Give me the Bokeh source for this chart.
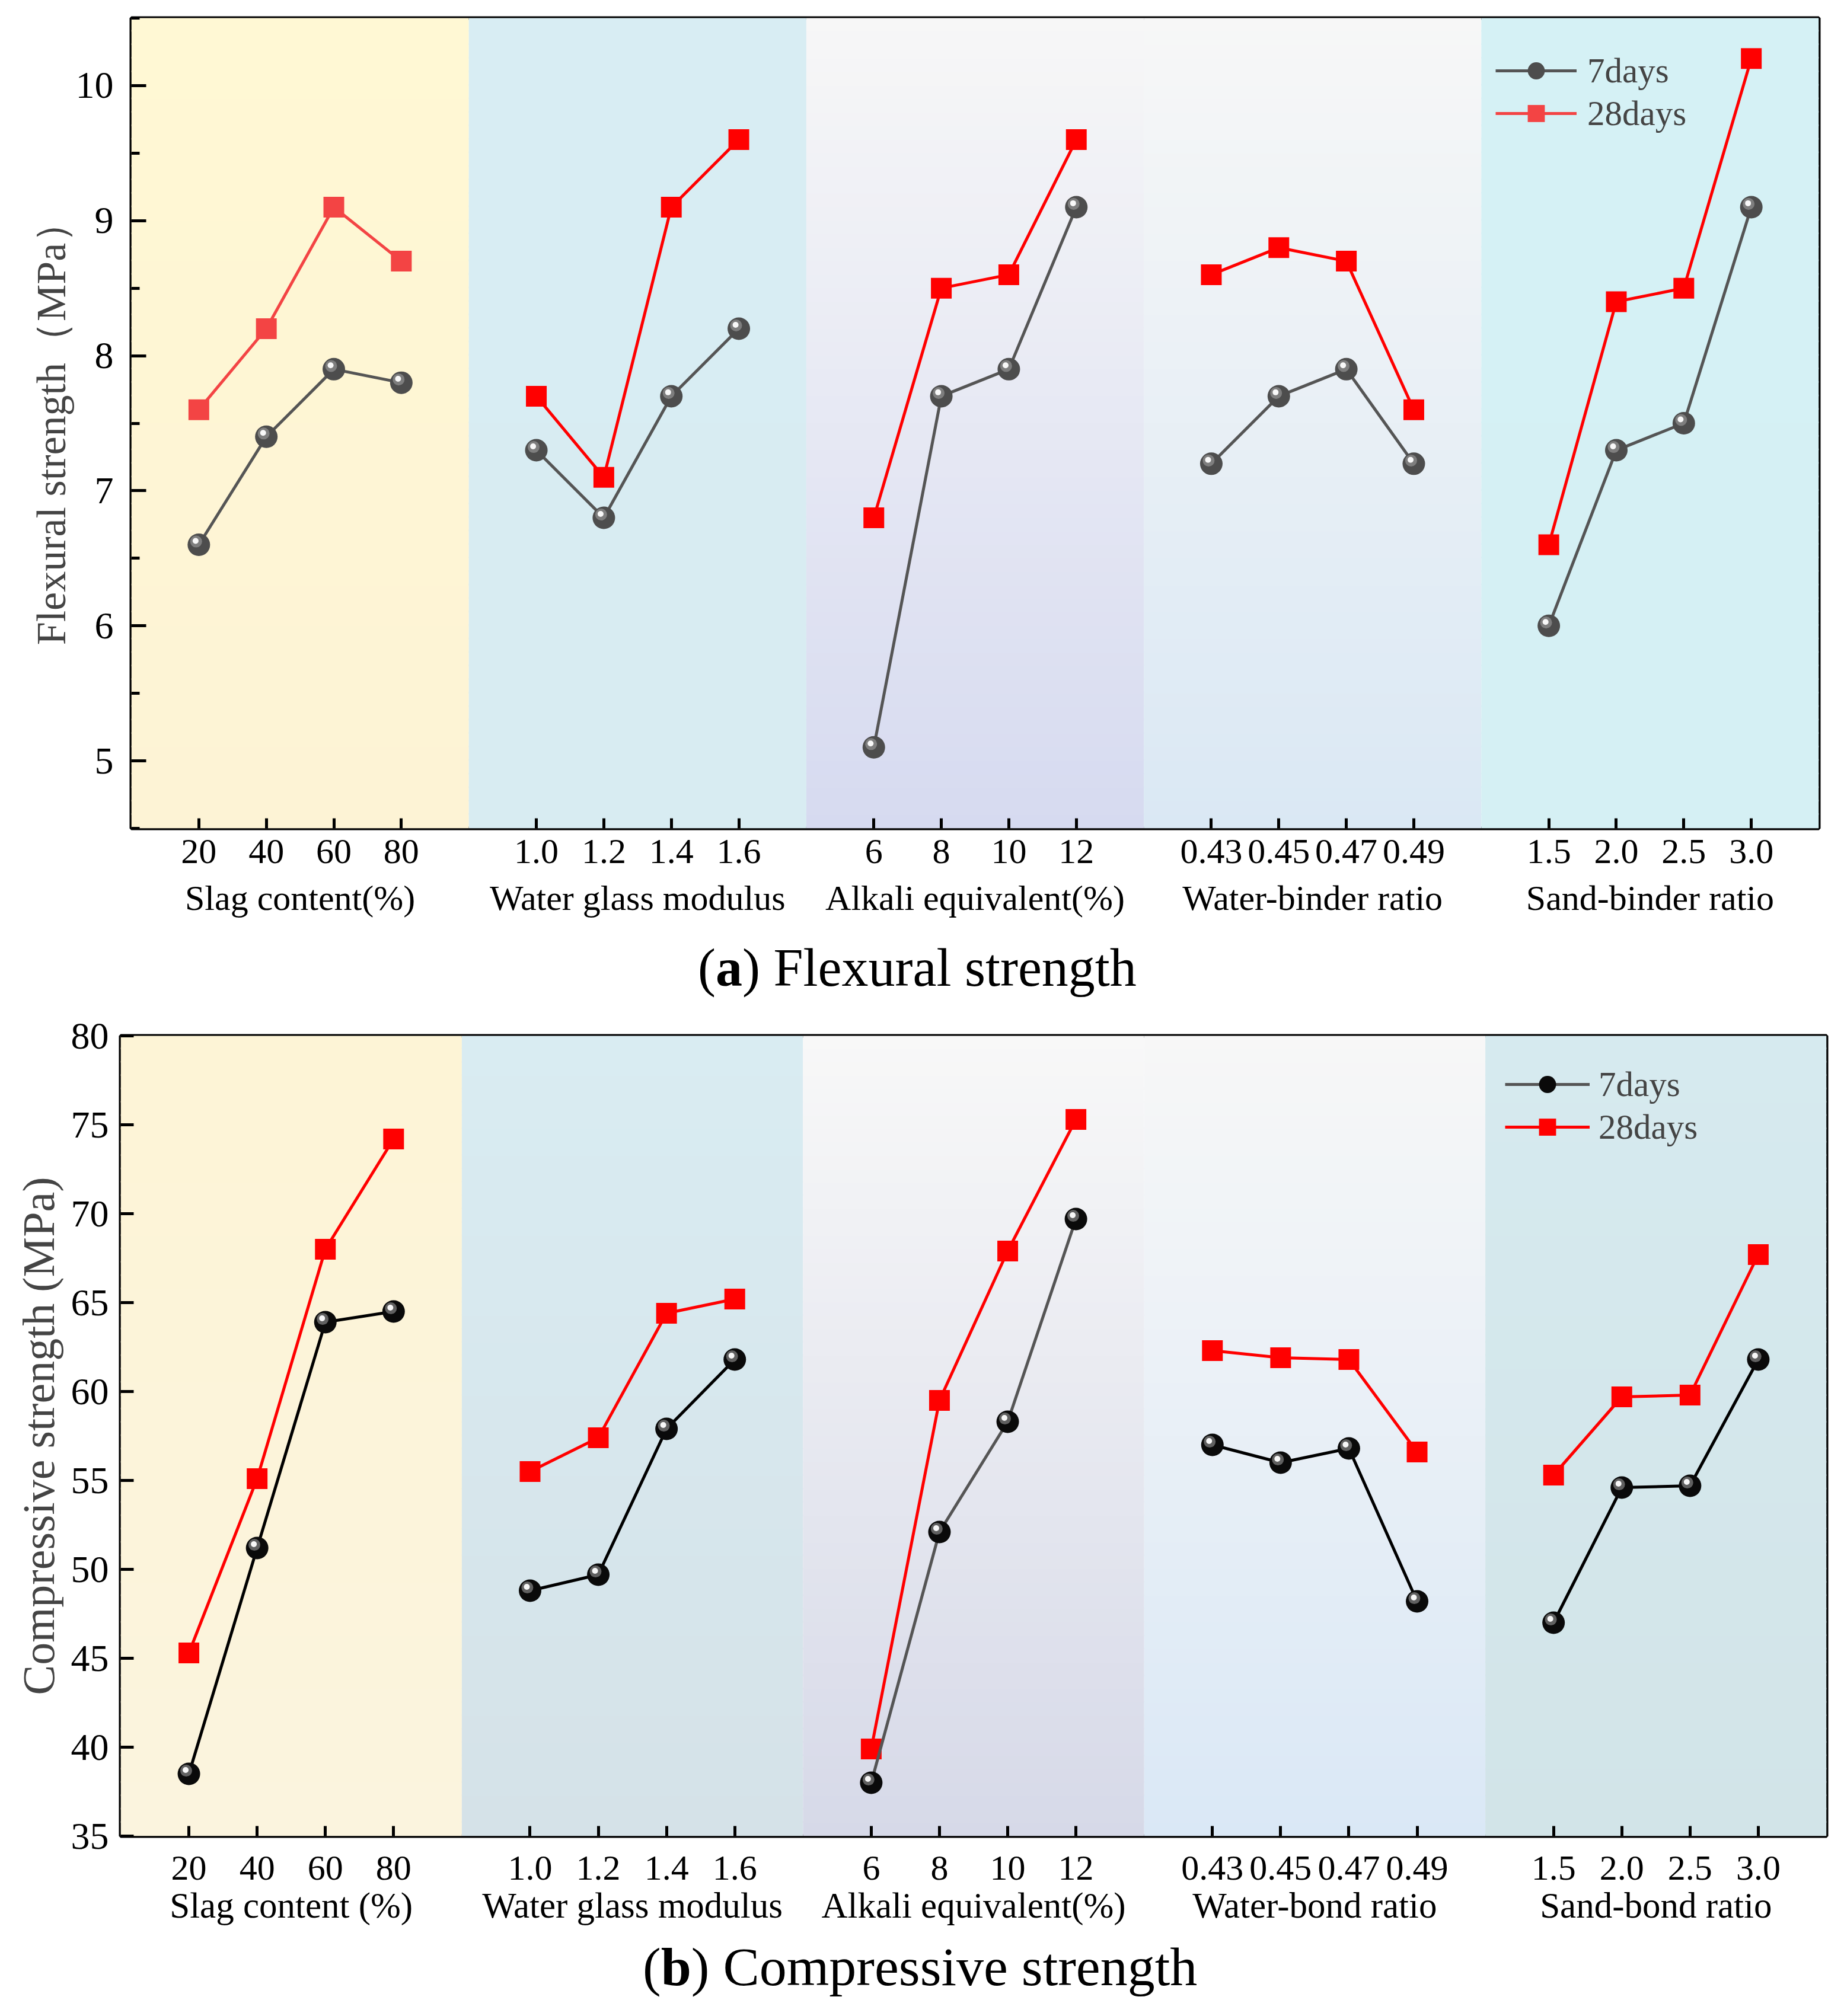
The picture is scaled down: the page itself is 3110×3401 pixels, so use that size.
from bokeh.plotting import figure
from bokeh.models import (FixedTicker, LinearAxis, Range1d, Legend,
                          LegendItem, ColumnDataSource, Div)
from bokeh.transform import dodge
from bokeh.embed import file_html
from bokeh.resources import INLINE

# ---------------- data ----------------
tick_labels = ["20", "40", "60", "80",
               "1.0", "1.2", "1.4", "1.6",
               "6", "8", "10", "12",
               "0.43", "0.45", "0.47", "0.49",
               "1.5", "2.0", "2.5", "3.0"]
group_names_a = ["Slag content(%)", "Water glass modulus", "Alkali equivalent(%)",
                 "Water-binder ratio", "Sand-binder ratio"]
group_names_b = ["Slag content (%)", "Water glass modulus", "Alkali equivalent(%)",
                 "Water-bond ratio", "Sand-bond ratio"]
series_names = ["7days", "28days"]

flex_7d = [6.6, 7.4, 7.9, 7.8,
           7.3, 6.8, 7.7, 8.2,
           5.1, 7.7, 7.9, 9.1,
           7.2, 7.7, 7.9, 7.2,
           6.0, 7.3, 7.5, 9.1]
flex_28d = [7.6, 8.2, 9.1, 8.7,
            7.7, 7.1, 9.1, 9.6,
            6.8, 8.5, 8.6, 9.6,
            8.6, 8.8, 8.7, 7.6,
            6.6, 8.4, 8.5, 10.2]
comp_7d = [38.5, 51.2, 63.9, 64.5,
           48.8, 49.7, 57.9, 61.8,
           38.0, 52.1, 58.3, 69.7,
           57.0, 56.0, 56.8, 48.2,
           47.0, 54.6, 54.7, 61.8]
comp_28d = [45.3, 55.1, 68.0, 74.2,
            55.5, 57.4, 64.4, 65.2,
            39.9, 59.5, 67.9, 75.3,
            62.3, 61.9, 61.8, 56.6,
            55.3, 59.7, 59.8, 67.7]

flex_yticks = [5, 6, 7, 8, 9, 10]
comp_yticks = [35, 40, 45, 50, 55, 60, 65, 70, 75, 80]

# ---------------- styling ----------------
FONT = "Liberation Serif"
N_GROUPS = 5
PER_GROUP = 4
GROUP_W = PER_GROUP + 1
PAGE_W = 3094

band_colors_a = [("#FFF8D4", "#FDF3D5"), ("#D8EDF3", "#D8ECF2"),
                 ("#F7F7F7", "#D6DAF0"), ("#F7F7F7", "#DAE8F4"),
                 ("#D5F1F5", "#D5F0F4")]
band_colors_b = [("#FDF4D6", "#FBF4DE"), ("#D9ECF2", "#D5E2E8"),
                 ("#F8F8F8", "#D6D9E8"), ("#F7F7F7", "#DAE8F6"),
                 ("#D6EAEF", "#D2E4E8")]


def hex_mix(c1, c2, t):
    a = [int(c1[i:i + 2], 16) for i in (1, 3, 5)]
    b = [int(c2[i:i + 2], 16) for i in (1, 3, 5)]
    return "#%02x%02x%02x" % tuple(round(a[k] + (b[k] - a[k]) * t) for k in range(3))


def make_panel(cfg):
    y0, y1 = cfg["yrange"]
    p = figure(frame_width=cfg["frame_w"], frame_height=cfg["frame_h"],
               x_range=Range1d(0, N_GROUPS * GROUP_W), y_range=Range1d(y0, y1),
               output_backend="svg", toolbar_location=None,
               min_border_left=cfg["border_l"], min_border_right=cfg["border_r"],
               min_border_top=cfg["border_t"], min_border_bottom=cfg["border_b"],
               background_fill_color="white", border_fill_color="white")
    p.grid.visible = False
    p.outline_line_color = "black"
    p.outline_line_width = 6
    p.outline_line_alpha = 1

    # background bands (vertical gradient approximated with stacked slices)
    L, R, B, T, C = [], [], [], [], []
    nslices = 60
    for g, (ct, cb) in enumerate(cfg["bands"]):
        for k in range(nslices):
            fb = k / nslices
            ft = (k + 1) / nslices
            L.append(g * GROUP_W)
            R.append((g + 1) * GROUP_W)
            B.append(y0 + (y1 - y0) * fb)
            T.append(y0 + (y1 - y0) * ft + (y1 - y0) * 0.002)
            C.append(hex_mix(cb, ct, (k + 0.5) / nslices))
    p.quad(left=L, right=R, bottom=B, top=T, fill_color=C, line_color=None)

    xs = [g * GROUP_W + i + 1 for g in range(N_GROUPS) for i in range(PER_GROUP)]

    legend_r7, legend_r28 = None, None
    for g in range(N_GROUPS):
        sl = slice(g * PER_GROUP, (g + 1) * PER_GROUP)
        src28 = ColumnDataSource(dict(x=xs[sl], y=cfg["v28"][sl]))
        src7 = ColumnDataSource(dict(x=xs[sl], y=cfg["v7"][sl]))
        c28 = cfg["red_first"] if g == 0 else "#FF0000"
        l28 = p.line("x", "y", source=src28, line_color=c28, line_width=5)
        s28 = p.scatter("x", "y", source=src28, marker="square", size=35,
                        fill_color=c28, line_color=None)
        l7 = p.line("x", "y", source=src7, line_color=cfg["line7"][g], line_width=5)
        s7 = p.scatter("x", "y", source=src7, marker="circle", size=38,
                       fill_color=cfg["sphere"], line_color=None)
        dx, dy = cfg["hl_dx"], cfg["hl_dy"]
        p.scatter(x=dodge("x", dx, range=p.x_range), y=dodge("y", dy, range=p.y_range),
                  source=src7, marker="circle", size=20,
                  fill_color="#A8A8A8", fill_alpha=0.55, line_color=None)
        p.scatter(x=dodge("x", dx * 1.2, range=p.x_range),
                  y=dodge("y", dy * 1.2, range=p.y_range),
                  source=src7, marker="circle", size=10,
                  fill_color="white", fill_alpha=0.95, line_color=None)
        if g == cfg["legend_group"]:
            legend_r7 = [l7, s7]
            legend_r28 = [l28, s28]

    # y axis
    yax = p.yaxis[0]
    yax.ticker = FixedTicker(ticks=cfg["yticks"], minor_ticks=cfg["yminor"])
    yax.axis_label = cfg["ylabel"]
    yax.axis_label_text_font = FONT
    yax.axis_label_text_font_size = cfg["ylabel_size"]
    yax.axis_label_text_font_style = "normal"
    yax.axis_label_standoff = cfg["ylabel_standoff"]
    yax.major_label_text_font = FONT
    yax.major_label_text_font_size = "64px"
    yax.major_label_standoff = cfg["ytick_standoff"]
    yax.axis_line_color = None
    yax.major_tick_in = cfg["ytick_in"]
    yax.major_tick_out = 0
    yax.minor_tick_in = 14
    yax.minor_tick_out = 0
    yax.major_tick_line_width = 5
    yax.minor_tick_line_width = 5
    yax.major_label_text_color = "black"

    # x axis with tick labels
    xax = p.xaxis[0]
    xax.ticker = FixedTicker(ticks=xs, minor_ticks=[])
    xax.major_label_overrides = {float(x): lab for x, lab in zip(xs, tick_labels)}
    xax.major_label_text_font = FONT
    xax.major_label_text_font_size = "60px"
    xax.major_label_standoff = cfg["xtick_standoff"]
    xax.axis_line_color = None
    xax.major_tick_in = 17
    xax.major_tick_out = 0
    xax.minor_tick_in = 0
    xax.minor_tick_out = 0
    xax.major_tick_line_width = 5
    xax.major_label_text_color = "black"

    # second x axis with group names
    centers = [g * GROUP_W + GROUP_W / 2 for g in range(N_GROUPS)]
    gax = LinearAxis(ticker=FixedTicker(ticks=centers, minor_ticks=[]))
    gax.major_label_overrides = {float(c): n for c, n in zip(centers, cfg["groups"])}
    gax.major_label_text_font = FONT
    gax.major_label_text_font_size = cfg["group_size"]
    gax.major_label_standoff = cfg["group_standoff"]
    gax.major_label_text_color = "black"
    gax.axis_line_color = None
    gax.major_tick_line_color = None
    gax.minor_tick_line_color = None
    gax.major_tick_in = 0
    gax.major_tick_out = 0
    p.add_layout(gax, "below")

    # legend
    legend = Legend(items=[LegendItem(label=series_names[0], renderers=legend_r7),
                           LegendItem(label=series_names[1], renderers=legend_r28)],
                    location=cfg["legend_loc"])
    legend.glyph_width = cfg["legend_gw"]
    legend.glyph_height = 72
    legend.label_height = 72
    legend.spacing = 0
    legend.padding = 0
    legend.margin = 0
    legend.border_line_color = None
    legend.background_fill_alpha = 0
    legend.label_text_font = FONT
    legend.label_text_font_size = "59px"
    legend.label_standoff = cfg["legend_standoff"]
    p.add_layout(legend)
    return p


def make_caption(cfg):
    html = ('<div style="font-family:\'%s\', serif; font-size:%dpx; line-height:1; '
            'color:black; white-space:nowrap; padding-left:%dpx; padding-top:%dpx;">'
            '(<b>%s</b>) %s</div>') % (FONT, cfg["cap_size"], cfg["cap_x"],
                                       cfg["cap_pad_top"], cfg["letter"], cfg["caption"])
    return Div(text=html, width=PAGE_W, height=cfg["cap_h"], margin=0)


cfg_a = dict(yrange=(4.5, 10.5), frame_w=2846, frame_h=1367,
             border_l=221, border_r=27, border_t=30, border_b=183,
             bands=band_colors_a, v7=flex_7d, v28=flex_28d,
             red_first="#F34444", line7=["#555555"] * 5, sphere="#4D4D4D",
             hl_dx=-0.04, hl_dy=0.024, legend_group=0,
             yticks=flex_yticks, yminor=[4.5 + 0.5 * k for k in range(13)],
             ylabel="Flexural strength\uff08MPa\uff09", ylabel_size="70px",
             ylabel_standoff=0, ytick_standoff=30, ytick_in=25,
             xtick_standoff=19, groups=group_names_a, group_size="60px",
             group_standoff=23, legend_loc=(2301, 1170), legend_gw=137,
             legend_standoff=18,
             cap_h=120, cap_x=1177, cap_pad_top=8, cap_size=90,
             letter="a", caption="Flexural strength")

cfg_b = dict(yrange=(35, 80), frame_w=2877, frame_h=1350,
             border_l=203, border_r=14, border_t=47, border_b=175,
             bands=band_colors_b, v7=comp_7d, v28=comp_28d,
             red_first="#FF0000",
             line7=["#000000", "#000000", "#555555", "#000000", "#000000"],
             sphere="#0A0A0A", hl_dx=-0.04, hl_dy=0.18, legend_group=2,
             yticks=comp_yticks, yminor=[],
             ylabel="Compressive strength (MPa)", ylabel_size="76px",
             ylabel_standoff=10, ytick_standoff=20, ytick_in=22,
             xtick_standoff=34, groups=group_names_b, group_size="61px",
             group_standoff=7, legend_loc=(2335, 1160), legend_gw=143,
             legend_standoff=15,
             cap_h=113, cap_x=1084, cap_pad_top=0, cap_size=92,
             letter="b", caption="Compressive strength")

pa = make_panel(cfg_a)
ca = make_caption(cfg_a)
pb = make_panel(cfg_b)
cb = make_caption(cfg_b)

open("out.html", "w").write(file_html([pa, ca, pb, cb], INLINE))
